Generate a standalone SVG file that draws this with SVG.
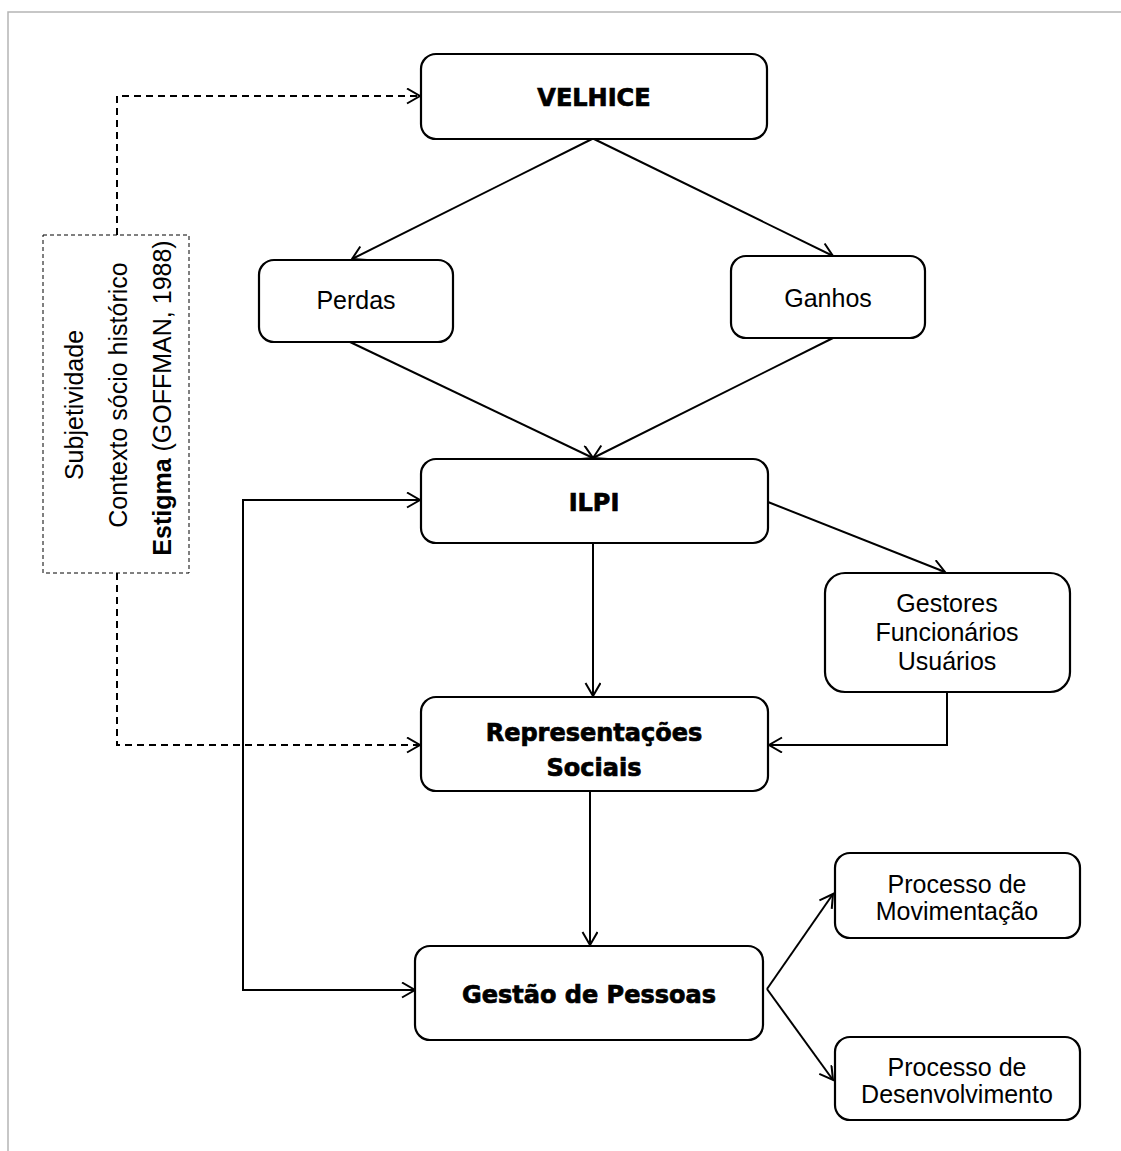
<svg xmlns="http://www.w3.org/2000/svg" width="1121" height="1151" viewBox="0 0 1121 1151">
<style>
.box{fill:#fff;stroke:#000;stroke-width:2.2}
.t{font-family:"Liberation Sans",Arial,sans-serif;font-size:25px;fill:#000;text-anchor:middle}
.b{font-family:"DejaVu Sans",sans-serif;font-weight:bold;font-size:24px;fill:#000;stroke:#000;stroke-width:0.7;text-anchor:middle}
.c{fill:none;stroke:#000;stroke-width:2}
.d{fill:none;stroke:#000;stroke-width:2;stroke-dasharray:7 5}
</style>
<defs>
<marker id="arr" markerUnits="userSpaceOnUse" markerWidth="18" markerHeight="18" refX="14" refY="8" orient="auto-start-reverse" viewBox="0 0 18 18">
<path d="M1,0.5 L14,8 L1,15.5" fill="none" stroke="#000" stroke-width="2"/>
</marker>
</defs>
<rect width="1121" height="1151" fill="#fff"/>
<path d="M8,1151 V12 H1121" fill="none" stroke="#b5b5b5" stroke-width="1.5"/>

<g id="connectors">
<line class="c" x1="592" y1="139" x2="352" y2="259" marker-end="url(#arr)"/>
<line class="c" x1="594" y1="139" x2="833" y2="256" marker-end="url(#arr)"/>
<line class="c" x1="350" y1="342" x2="593" y2="458" marker-end="url(#arr)"/>
<line class="c" x1="833" y1="338" x2="593" y2="458" marker-end="url(#arr)"/>
<line class="c" x1="768" y1="502" x2="945" y2="572" marker-end="url(#arr)"/>
<line class="c" x1="593" y1="543" x2="593" y2="696" marker-end="url(#arr)"/>
<polyline class="c" points="947,692 947,745 769,745" marker-end="url(#arr)"/>
<line class="c" x1="590" y1="791" x2="590" y2="945" marker-end="url(#arr)"/>
<line class="c" x1="767" y1="989" x2="833" y2="894" marker-end="url(#arr)"/>
<line class="c" x1="767" y1="989" x2="833" y2="1080" marker-end="url(#arr)"/>
<polyline class="c" points="420,500 243,500 243,990 415,990" marker-start="url(#arr)" marker-end="url(#arr)"/>
<polyline class="d" points="117,235 117,96 420,96" marker-end="url(#arr)"/>
<polyline class="d" points="117,573 117,745 420,745" marker-end="url(#arr)"/>
</g>

<g id="contexto">
<rect x="43" y="235" width="146" height="338" fill="none" stroke="#000" stroke-width="1" stroke-dasharray="4 3"/>
<text class="t" transform="translate(83,405) rotate(-90)">Subjetividade</text>
<text class="t" transform="translate(127,395) rotate(-90)">Contexto sócio histórico</text>
<text class="t" transform="translate(171,398) rotate(-90)"><tspan font-weight="bold">Estigma</tspan> (GOFFMAN, 1988)</text>
</g>

<g id="velhice">
<rect class="box" x="421" y="54" width="346" height="85" rx="15"/>
<text class="b" x="594" y="106" font-size="26">VELHICE</text>
</g>
<g id="perdas">
<rect class="box" x="259" y="260" width="194" height="82" rx="15"/>
<text class="t" x="356" y="309">Perdas</text>
</g>
<g id="ganhos">
<rect class="box" x="731" y="256" width="194" height="82" rx="15"/>
<text class="t" x="828" y="307">Ganhos</text>
</g>
<g id="ilpi">
<rect class="box" x="421" y="459" width="347" height="84" rx="15"/>
<text class="b" x="594" y="511">ILPI</text>
</g>
<g id="gestores">
<rect class="box" x="825" y="573" width="245" height="119" rx="20"/>
<text class="t" x="947" y="612">Gestores</text>
<text class="t" x="947" y="641">Funcionários</text>
<text class="t" x="947" y="670">Usuários</text>
</g>
<g id="representacoes">
<rect class="box" x="421" y="697" width="347" height="94" rx="15"/>
<text class="b" x="594" y="741">Representações</text>
<text class="b" x="594" y="776">Sociais</text>
</g>
<g id="gestao">
<rect class="box" x="415" y="946" width="348" height="94" rx="15"/>
<text class="b" x="589" y="1003">Gestão de Pessoas</text>
</g>
<g id="movimentacao">
<rect class="box" x="835" y="853" width="245" height="85" rx="15"/>
<text class="t" x="957" y="893">Processo de</text>
<text class="t" x="957" y="920">Movimentação</text>
</g>
<g id="desenvolvimento">
<rect class="box" x="835" y="1037" width="245" height="83" rx="15"/>
<text class="t" x="957" y="1076">Processo de</text>
<text class="t" x="957" y="1103">Desenvolvimento</text>
</g>
</svg>
